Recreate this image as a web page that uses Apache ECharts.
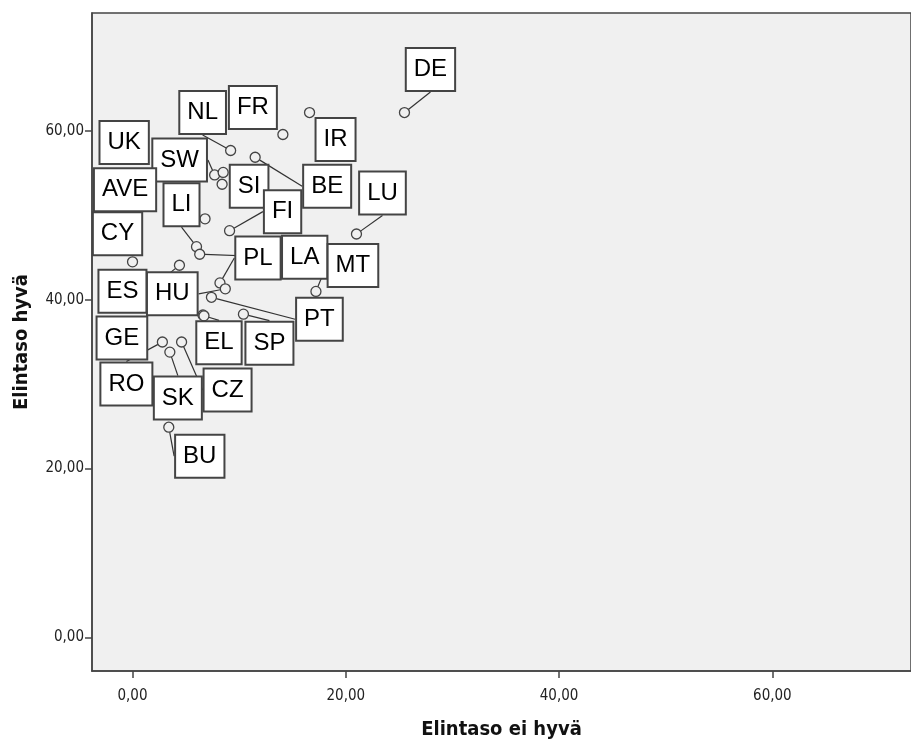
<!DOCTYPE html>
<html>
<head>
<meta charset="utf-8">
<script src="https://cdn.jsdelivr.net/npm/echarts@6/dist/echarts.min.js"></script>
<style>
html,body{margin:0;padding:0;background:#fff;}
#chart{width:911px;height:741px;}
</style>
</head>
<body>
<div id="chart"></div>
<script>
// Data
const countries = ['DE','IR','FR','NL','BE','SW','UK','SI','AVE','FI','LU','LI','LA','CY','ES','PL','HU','PT','MT','GE','EL','SP','RO','CZ','SK','BU'];
const notGood  = [25.5,16.6,14.1,9.2,11.5,7.7,8.5,8.4,6.8,9.1,21.0,6.0,6.3,0.0,4.4,8.2,8.7,7.4,17.2,6.6,6.7,10.4,2.8,4.6,3.5,3.4];
const good     = [62.2,62.2,59.6,57.7,56.9,54.8,55.1,53.7,49.6,48.2,47.8,46.3,45.4,44.5,44.1,42.0,41.3,40.3,41.0,38.2,38.1,38.3,35.0,35.0,33.8,24.9];
const xTicks = [0,20,40,60];
const yTicks = [0,20,40,60];
const xTitle = 'Elintaso ei hyvä';
const yTitle = 'Elintaso hyvä';

// Label placement (pixel offsets of label centre from its point) - layout only
const labelOffset = {
  DE:[26,-43], IR:[26,27], FR:[-30,-27], NL:[-28,-38], BE:[72,29], SW:[-35,-15],
  UK:[-99,-30], SI:[27,2], AVE:[-80,-29], FI:[53,-19], LU:[26,-41], LI:[-15,-42],
  LA:[105,3], CY:[-15,-28], ES:[-57,26], PL:[38,-25], HU:[-53,5], PT:[108,22],
  MT:[37,-26], GE:[-81,23], EL:[15,27], SP:[26,29], RO:[-36,42], CZ:[46,48],
  SK:[8,46], BU:[31,29]
};
const noLine = new Set(['UK','AVE','CY','GE','IR','FR','SI']);

const fmt = v => v.toFixed(2).replace('.', ',');

const data = countries.map((c, i) => {
  const item = { name: c, value: [notGood[i], good[i]] };
  if (noLine.has(c)) item.labelLine = { show: false };
  return item;
});

const chart = echarts.init(document.getElementById('chart'), null, { renderer: 'canvas' });
const axisFont = "'Liberation Sans Narrow','DejaVu Sans Condensed','Liberation Sans',Arial,sans-serif";

chart.setOption({
  animation: false,
  backgroundColor: '#ffffff',
  grid: {
    left: 92, right: 0, top: 13, bottom: 70,
    outerBoundsMode: 'none',
    containLabel: false,
    show: true, backgroundColor: '#f0f0f0', borderColor: '#444', borderWidth: 1.5
  },
  xAxis: {
    type: 'value', min: -3.8, max: 73,
    name: xTitle, nameLocation: 'middle', nameGap: 49,
    nameTextStyle: { fontFamily: axisFont, fontWeight: 'bold', fontSize: 20, color: '#111' },
    axisLine: { show: true, onZero: false, lineStyle: { color: '#444', width: 1.5 } },
    axisTick: { show: true, length: 7, customValues: xTicks, lineStyle: { color: '#444', width: 1.5 } },
    axisLabel: { customValues: xTicks, formatter: fmt, margin: 18, fontFamily: axisFont, fontSize: 15, color: '#222' },
    splitLine: { show: false }
  },
  yAxis: {
    type: 'value', min: -4, max: 74,
    name: yTitle, nameLocation: 'middle', nameGap: 60, nameRotate: 90,
    nameTextStyle: { fontFamily: axisFont, fontWeight: 'bold', fontSize: 20, color: '#111' },
    axisLine: { show: true, onZero: false, lineStyle: { color: '#444', width: 1.5 } },
    axisTick: { show: true, length: 7, customValues: yTicks, lineStyle: { color: '#444', width: 1.5 } },
    axisLabel: { customValues: yTicks, formatter: fmt, margin: 8, fontFamily: axisFont, fontSize: 15, color: '#222' },
    splitLine: { show: false }
  },
  series: [{
    type: 'scatter',
    data: data,
    symbol: 'circle',
    symbolSize: 10,
    itemStyle: { color: '#f0f0f0', borderColor: '#444', borderWidth: 1.3, opacity: 1 },
    emphasis: { disabled: true },
    label: {
      show: true,
      formatter: p => p.name,
      position: 'inside',
      fontFamily: "'Liberation Sans',Arial,sans-serif",
      fontSize: 24,
      lineHeight: 28,
      color: '#000',
      backgroundColor: '#ffffff',
      borderColor: '#444',
      borderWidth: 2,
      padding: [7, 7, 6, 7]
    },
    labelLine: { show: true, lineStyle: { color: '#333', width: 1.2 } },
    labelLayout: function (params) {
      const name = countries[params.dataIndex];
      const off = labelOffset[name] || [0, 0];
      const r = params.rect;
      return {
        x: r.x + r.width / 2 + off[0],
        y: r.y + r.height / 2 + off[1],
        align: 'center',
        verticalAlign: 'middle'
      };
    }
  }]
});
</script>
</body>
</html>
